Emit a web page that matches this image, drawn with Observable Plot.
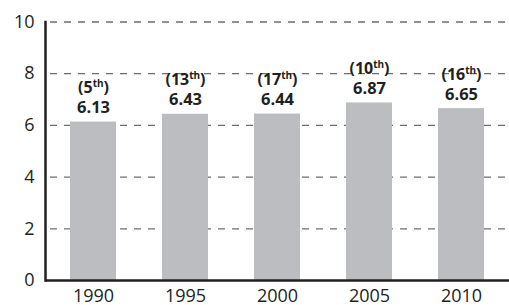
<!DOCTYPE html>
<html>
<head>
<meta charset="utf-8">
<script src="https://cdn.jsdelivr.net/npm/d3@7"></script>
<script src="https://cdn.jsdelivr.net/npm/@observablehq/plot@0.6"></script>
<style>
  html, body { margin: 0; padding: 0; background: #fff; }
  #chart svg { display: block; }
</style>
</head>
<body>
<div id="chart"></div>
<script>
const years = ["1990", "1995", "2000", "2005", "2010"];
const values = [6.13, 6.43, 6.44, 6.87, 6.65];
const ranks = ["5th", "13th", "17th", "10th", "16th"];
const yTicks = [0, 2, 4, 6, 8, 10];

const data = years.map((year, i) => ({year, value: values[i], rank: ranks[i]}));

const ink = "#231f20";
const font = "'Open Sans', sans-serif";

const chart = Plot.plot({
  width: 509,
  height: 305,
  marginLeft: 45,
  marginRight: 0,
  marginTop: 21.5,
  marginBottom: 25,
  style: {fontFamily: font, background: "#fff", color: ink, overflow: "visible"},
  x: {domain: years, paddingInner: 0.5, paddingOuter: 0.25, label: null},
  y: {domain: [0, 10], ticks: yTicks, label: null},
  marks: [
    Plot.ruleY(yTicks.filter(d => d > 0), {stroke: "#6d6e71", strokeWidth: 1.3, strokeDasharray: "7,7", strokeDashoffset: -5}),
    Plot.barY(data, {x: "year", y: "value", fill: "#bcbdc0"}),
    Plot.ruleY([0], {stroke: ink, strokeWidth: 2.5}),
    Plot.frame({anchor: "left", stroke: ink, strokeWidth: 2.5}),
    Plot.axisY({ticks: yTicks, tickSize: 0, tickPadding: 11, fontSize: 18, fill: ink, label: null}),
    Plot.axisX({tickSize: 0, tickPadding: 9, fontSize: 18, fill: ink, label: null}),
    Plot.text(data, {x: "year", y: "value", text: d => d.value.toFixed(2), lineAnchor: "bottom", dy: -9, fontSize: 16.5, fontWeight: "bold", fill: ink}),
    Plot.text(data, {x: "year", y: "value", text: d => `(${d.rank})`, lineAnchor: "bottom", dy: -29, fontSize: 16, fontWeight: "bold", fill: ink})
  ]
});

d3.select(chart).selectAll("text").each(function () {
  const t = this.textContent;
  const m = t.match(/^\((\d+)(st|nd|rd|th)\)$/);
  if (!m) return;
  const sel = d3.select(this);
  sel.text(null);
  sel.append("tspan").text("(" + m[1]);
  sel.append("tspan").attr("font-size", "10px").attr("dy", "-6").text(m[2]);
  sel.append("tspan").attr("dy", "6").text(")");
});

document.getElementById("chart").append(chart);
</script>
</body>
</html>
